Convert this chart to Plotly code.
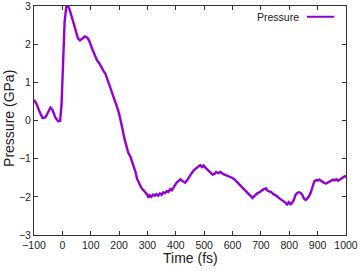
import plotly.graph_objects as go

time_fs = [-100, -90, -80, -70, -60, -50, -42, -35, -25, -15, -8, -3, 3, 8, 14, 20, 26, 35, 45, 55,
           62, 70, 80, 88, 95, 105, 115, 122, 130, 138, 145, 152, 160, 168, 176, 184, 192, 200, 206, 212,
           218, 225, 232, 240, 247, 253, 258, 263, 270, 278, 285, 292, 298, 304, 308, 314, 320, 326, 332, 338,
           344, 350, 356, 362, 368, 374, 380, 386, 392, 398, 404, 410, 416, 422, 428, 433, 440, 448, 456, 464,
           472, 480, 486, 492, 498, 505, 512, 518, 524, 530, 536, 542, 550, 558, 566, 574, 582, 590, 598, 606,
           614, 622, 630, 638, 645, 652, 658, 664, 670, 676, 682, 688, 695, 702, 710, 718, 724, 730, 737, 744,
           750, 756, 762, 768, 774, 780, 786, 792, 798, 804, 810, 816, 822, 828, 834, 840, 846, 852, 858, 864,
           870, 876, 882, 888, 894, 900, 906, 912, 918, 924, 930, 936, 942, 948, 954, 960, 966, 972, 978, 984,
           990, 996, 1000]
pressure_gpa = [0.54, 0.42, 0.22, 0.07, 0.08, 0.25, 0.34, 0.28, 0.08, -0.02, -0.01, 0.4, 1.6, 2.6, 2.98, 3.0, 2.9, 2.65, 2.38, 2.15,
                2.1, 2.14, 2.2, 2.17, 2.08, 1.88, 1.7, 1.58, 1.5, 1.38, 1.3, 1.22, 1.06, 0.88, 0.72, 0.56, 0.37, 0.18, 0.0, -0.22,
                -0.45, -0.68, -0.84, -0.95, -1.1, -1.2, -1.35, -1.52, -1.65, -1.76, -1.82, -1.88, -1.93, -2.02, -1.96, -2.0, -1.94, -1.97, -1.93, -1.97,
                -1.91, -1.95, -1.88, -1.9, -1.85, -1.87, -1.8, -1.83, -1.74, -1.68, -1.62, -1.58, -1.54, -1.58, -1.6, -1.63, -1.56, -1.46, -1.38, -1.3,
                -1.25, -1.2, -1.17, -1.22, -1.18, -1.24, -1.28, -1.33, -1.38, -1.42, -1.4, -1.35, -1.38, -1.35, -1.4, -1.42, -1.44, -1.47, -1.5, -1.54,
                -1.6, -1.66, -1.72, -1.76, -1.82, -1.88, -1.93, -1.98, -2.03, -1.98, -1.95, -1.9, -1.88, -1.84, -1.8, -1.78, -1.84, -1.86, -1.88, -1.93,
                -1.95, -1.98, -2.02, -2.05, -2.1, -2.13, -2.15, -2.2, -2.14, -2.19, -2.16, -2.08, -1.95, -1.9, -1.88, -1.9, -1.95, -2.05, -2.08, -2.04,
                -1.98, -1.88, -1.74, -1.6, -1.56, -1.57, -1.55, -1.58, -1.62, -1.64, -1.65, -1.62, -1.6, -1.57, -1.55, -1.57, -1.54, -1.58, -1.55, -1.52,
                -1.48, -1.46, -1.48]

x_ticks = [-100, 0, 100, 200, 300, 400, 500, 600, 700, 800, 900, 1000]
y_ticks = [-3, -2, -1, 0, 1, 2, 3]

color = "#9400D3"
font_family = "Liberation Sans, Arial, sans-serif"
text_color = "#222222"

fig = go.Figure()
fig.add_trace(go.Scatter(x=time_fs, y=pressure_gpa, mode="lines", name="Pressure",
                         line=dict(color=color, width=2.4), showlegend=False))

axis_common = dict(showline=True, linecolor="#333333", linewidth=1, mirror="ticks",
                   ticks="inside", ticklen=4, tickcolor="#333333", showgrid=False, zeroline=False,
                   automargin=False, ticklabeloverflow="allow",
                   tickfont=dict(family=font_family, size=10.5, color=text_color))

fig.update_xaxes(range=[-100, 1000], tickvals=x_ticks, **axis_common)
fig.update_yaxes(range=[-3, 3], tickvals=y_ticks, **axis_common)

fig.add_annotation(xref="paper", yref="paper", x=0.5, y=-0.10, xanchor="center", yanchor="middle",
                   text="Time (fs)", showarrow=False, font=dict(family=font_family, size=14, color=text_color))
fig.add_annotation(xref="paper", yref="paper", x=-0.08, y=0.507, xanchor="center", yanchor="middle",
                   text="Pressure (GPa)", textangle=-90, showarrow=False,
                   font=dict(family=font_family, size=14, color=text_color))

fig.add_annotation(xref="paper", yref="paper", x=0.856, y=0.953, xanchor="right", yanchor="middle",
                   text="Pressure", showarrow=False, font=dict(family=font_family, size=10.5, color=text_color))
fig.add_shape(type="line", xref="paper", yref="paper", x0=0.875, x1=0.962, y0=0.953, y1=0.953,
              line=dict(color=color, width=2))

fig.update_layout(width=360, height=271, margin=dict(l=34, r=14, t=6, b=36),
                  plot_bgcolor="white", paper_bgcolor="white")

fig.write_html("out.html", config={"displayModeBar": False},
               post_script="document.body.style.margin='0px';document.body.style.overflow='hidden';")
